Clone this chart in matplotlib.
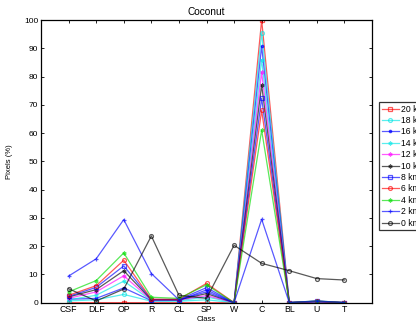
import matplotlib
matplotlib.use("Agg")
import matplotlib.pyplot as plt

plt.rcParams['font.family'] = ['Liberation Sans', 'DejaVu Sans']

categories = ['CSF', 'DLF', 'OP', 'R', 'CL', 'SP', 'W', 'C', 'BL', 'U', 'T']
series_labels = ['20 km', '18 km', '16 km', '14 km', '12 km', '10 km',
                 '8 km', '6 km', '4 km', '2 km', '0 km']

km20 = [0.0, 0.0, 0.0, 0.0, 0.0, 0.0, 0.0, 100.0, 0.0, 0.0, 0.0]
km18 = [0.6, 1.0, 2.9, 0.5, 0.5, 1.0, 0.0, 95.5, 0.0, 0.2, 0.0]
km16 = [1.2, 1.5, 5.2, 0.7, 0.8, 4.5, 0.0, 90.7, 0.0, 0.3, 0.0]
km14 = [1.0, 2.6, 7.6, 0.8, 0.7, 2.0, 0.0, 86.0, 0.0, 0.3, 0.0]
km12 = [1.5, 3.8, 9.5, 0.9, 0.9, 2.5, 0.0, 81.5, 0.0, 0.3, 0.0]
km10 = [2.0, 4.6, 11.3, 1.0, 1.0, 3.2, 0.0, 77.0, 0.0, 0.4, 0.0]
km8 = [2.2, 5.4, 13.0, 1.1, 1.1, 5.3, 0.0, 72.3, 0.0, 0.5, 0.0]
km6 = [2.6, 6.0, 15.0, 1.2, 1.2, 6.8, 0.0, 68.0, 0.0, 0.5, 0.0]
km4 = [3.8, 7.8, 17.6, 1.9, 1.5, 6.3, 0.0, 61.0, 0.0, 0.6, 0.0]
km2 = [9.4, 15.5, 29.4, 10.3, 1.0, 3.8, 0.0, 29.5, 0.0, 0.6, 0.0]
km0 = [4.9, 0.6, 4.8, 23.6, 2.6, 1.5, 20.3, 13.9, 11.3, 8.5, 8.0]

all_series = [km20, km18, km16, km14, km12, km10, km8, km6, km4, km2, km0]
colors = ['#ff0000', '#00e5e5', '#0000ff', '#00e5e5', '#ff00ff', '#000000',
          '#0000ff', '#ff0000', '#00dd00', '#0000ff', '#000000']
ast = (6, 2, 0)
markers = ['s', 'o', '.', ast, ast, ast, 's', 'o', ast, '+', 'o']

fig = plt.figure(figsize=(4.16, 3.24), dpi=100)
ax = fig.add_axes([0.0986, 0.066, 0.7956, 0.872])

x = list(range(1, len(categories) + 1))
for vals, lab, c, m in zip(all_series, series_labels, colors, markers):
    filled = m in ('.', ast, '+')
    ax.plot(x, vals, color=c, marker=m, markersize=2.8 if m != '.' else 3.5,
            markerfacecolor=c if filled else 'none', markeredgecolor=c,
            markeredgewidth=0.9, linewidth=0.9, alpha=0.65, label=lab)

ax.set_xlim(0, 12)
ax.set_ylim(0, 100)
ax.set_xticks(x)
ax.set_xticklabels(categories)
ax.set_yticks(range(0, 101, 10))
ax.tick_params(direction='in', length=2.5, width=0.6, labelsize=6,
               top=True, right=True, pad=2, colors='black')
ax.tick_params(axis='x', labelsize=6.3)
for s in ax.spines.values():
    s.set_linewidth(0.9)
ax.set_title('Coconut', fontsize=7.3, pad=4)
ax.set_xlabel('Class', fontsize=5.5, labelpad=1)
ax.set_ylabel('Pixels (%)', fontsize=5.5, labelpad=8)

leg = ax.legend(loc='upper left', bbox_to_anchor=(1.021, 0.71), fontsize=6.2,
                handlelength=2.0, handletextpad=0.3, labelspacing=0.28,
                borderpad=0.3, borderaxespad=0, frameon=True, fancybox=False)
leg.get_frame().set_edgecolor('black')
leg.get_frame().set_linewidth(0.9)

fig.savefig('out.png', dpi=100)
